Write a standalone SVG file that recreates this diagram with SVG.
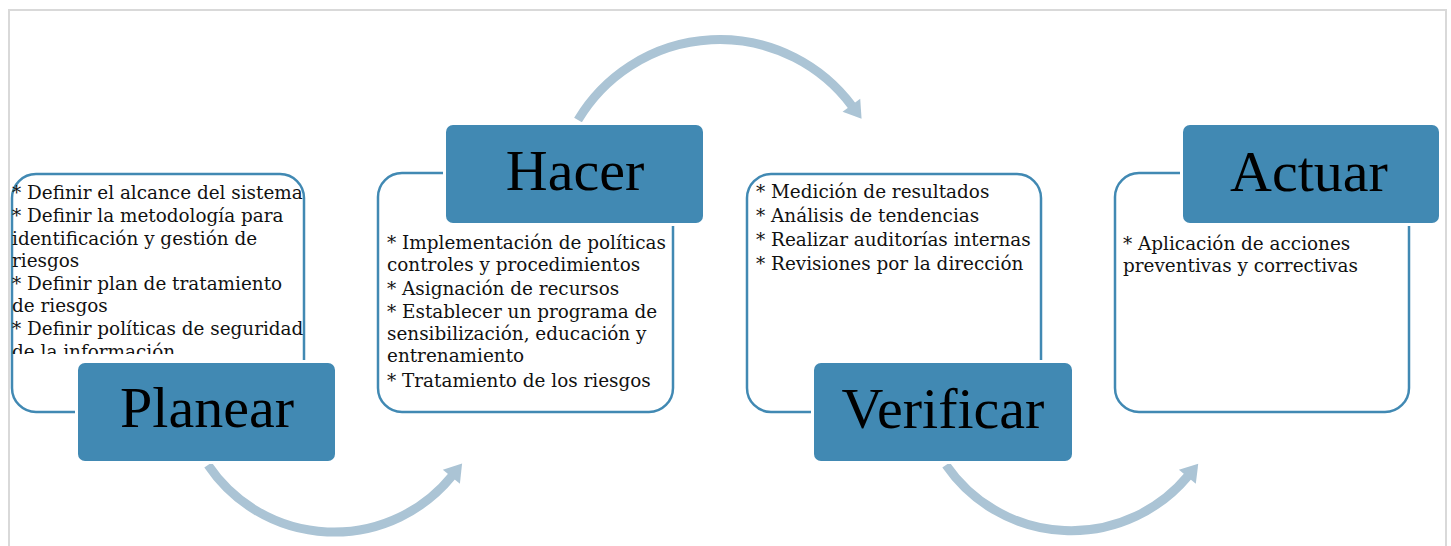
<svg xmlns="http://www.w3.org/2000/svg" width="1451" height="546" viewBox="0 0 1451 546">
<style>
.frame{fill:none;stroke:#d9d9d9;stroke-width:2}
.box{fill:#fff;stroke:#4189b3;stroke-width:2.5}
.tab{fill:#4189b3;stroke:#fff;stroke-width:6;paint-order:stroke}
.title{font-family:"Liberation Serif","Times New Roman",serif;font-size:58px;fill:#000;text-anchor:middle}
.body{font-family:"DejaVu Serif","Liberation Serif",serif;font-size:18.4px;fill:#111}
.arc{fill:none;stroke:#abc4d5;stroke-width:9}
</style>
<defs>
<marker id="ah" markerUnits="userSpaceOnUse" markerWidth="24" markerHeight="24" viewBox="0 -12 18 24" refX="1" refY="0" orient="auto">
<path d="M0,-11 L17,0 L0,11 Z" fill="#abc4d5"/>
</marker>
<clipPath id="clipP"><rect x="0" y="150" width="320" height="204"/></clipPath>
</defs>
<rect width="1451" height="546" fill="#fff"/>
<path class="frame" d="M9,546 V10 H1446 V546"/>
<g id="connectors">
<path class="arc" d="M208,465 A152,152 0 0 0 452,476" marker-end="url(#ah)"/>
<path class="arc" d="M578,120 A165,165 0 0 1 852,106" marker-end="url(#ah)"/>
<path class="arc" d="M946,465 A152,152 0 0 0 1188,476" marker-end="url(#ah)"/>
</g>
<g id="planear">
<rect class="box" x="12" y="174" width="292" height="238" rx="24"/>
<g class="body" clip-path="url(#clipP)">
<text x="12" y="199">* Definir el alcance del sistema</text>
<text x="12" y="222">* Definir la metodología para</text>
<text x="12" y="245">identificación y gestión de</text>
<text x="12" y="267">riesgos</text>
<text x="12" y="290">* Definir plan de tratamiento</text>
<text x="12" y="312">de riesgos</text>
<text x="12" y="335">* Definir políticas de seguridad</text>
<text x="12" y="358">de la información</text>
</g>
<rect class="tab" x="78" y="363" width="257" height="98" rx="7"/>
<text class="title" x="207" y="427">Planear</text>
</g>
<g id="hacer">
<rect class="box" x="378" y="173" width="295" height="239" rx="24"/>
<rect class="tab" x="446" y="125" width="257" height="98" rx="7"/>
<text class="title" x="575" y="190">Hacer</text>
<g class="body">
<text x="387" y="249">* Implementación de políticas</text>
<text x="387" y="271">controles y procedimientos</text>
<text x="387" y="295">* Asignación de recursos</text>
<text x="387" y="318">* Establecer un programa de</text>
<text x="387" y="340">sensibilización, educación y</text>
<text x="387" y="362">entrenamiento</text>
<text x="387" y="387">* Tratamiento de los riesgos</text>
</g>
</g>
<g id="verificar">
<rect class="box" x="747" y="174" width="294" height="238" rx="24"/>
<g class="body">
<text x="756" y="198">* Medición de resultados</text>
<text x="756" y="222">* Análisis de tendencias</text>
<text x="756" y="246">* Realizar auditorías internas</text>
<text x="756" y="270">* Revisiones por la dirección</text>
</g>
<rect class="tab" x="814" y="363" width="258" height="98" rx="7"/>
<text class="title" x="943" y="428">Verificar</text>
</g>
<g id="actuar">
<rect class="box" x="1115" y="173" width="294" height="239" rx="24"/>
<rect class="tab" x="1183" y="125" width="256" height="98" rx="7"/>
<text class="title" x="1309" y="191">Actuar</text>
<g class="body">
<text x="1123" y="250">* Aplicación de acciones</text>
<text x="1123" y="272">preventivas y correctivas</text>
</g>
</g>
</svg>
